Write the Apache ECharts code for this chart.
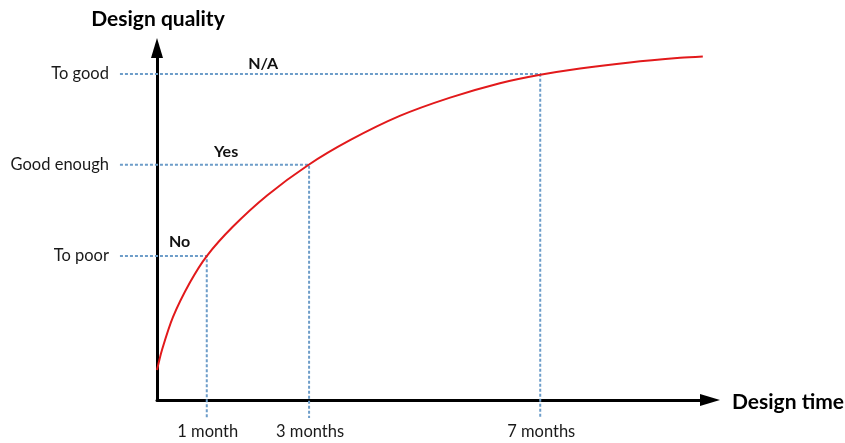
<!DOCTYPE html>
<html>
<head>
<meta charset="utf-8">
<script src="https://cdn.jsdelivr.net/npm/echarts@6/dist/echarts.min.js"></script>
<style>html,body{margin:0;padding:0;background:#fff}#c{width:845px;height:443px}</style>
</head>
<body>
<div id="c"></div>
<script>
// Design time (relative units along the axis, 0-100) and design quality (0-100)
const curveTime    = [0, 0.9, 2.9, 6.0, 9.0, 13.7, 19.9, 27.3, 34.9, 43.9, 53.0, 62.0, 69.3, 76.5, 85.5, 94.6, 98.7];
const curveQuality = [8.5, 14.2, 23.6, 33.5, 40.9, 49.2, 58.1, 66.7, 73.8, 80.7, 85.9, 90.0, 92.4, 94.2, 95.9, 97.2, 97.6];

const levelNames   = ['To poor', 'Good enough', 'To good'];
const levelQuality = [40.9, 66.8, 92.6];
const timeLabels   = ['1 month', '3 months', '7 months'];
const timeValues   = [9.0, 27.5, 69.3];

const answerLabels  = ['No', 'Yes', 'N/A'];
const answerTime    = [4.1, 12.5, 19.2];
const answerQuality = [44.9, 70.4, 95.4];

const guideStartTime = -6.7;
const guideEndQuality = -5.1;
const xName = 'Design time';
const yName = 'Design quality';

const font = 'Lato, "Open Sans", sans-serif';
const guideColor = '#6d9dc9';
const textColor = '#1a1a1a';

function renderGuide(params, api) {
  const i = api.value(0);
  const a = api.coord([guideStartTime, levelQuality[i]]);
  const b = api.coord([timeValues[i], levelQuality[i]]);
  const c = api.coord([timeValues[i], guideEndQuality]);
  const ans = api.coord([answerTime[i], answerQuality[i]]);
  return {
    type: 'group',
    children: [
      { type: 'polyline', shape: { points: [a, b, c] },
        style: { stroke: guideColor, lineWidth: 2, lineDash: [3, 2], fill: null } },
      { type: 'text', x: a[0] - 11, y: a[1],
        style: { text: levelNames[i], fill: textColor, fontFamily: font, fontSize: 16.5, align: 'right', verticalAlign: 'middle' } },
      { type: 'text', x: c[0] + 1, y: c[1] + 5,
        style: { text: timeLabels[i], fill: textColor, fontFamily: font, fontSize: 16.5, align: 'center', verticalAlign: 'top' } },
      { type: 'text', x: ans[0], y: ans[1],
        style: { text: answerLabels[i], fill: '#111', fontFamily: font, fontSize: 16, fontWeight: 'bold', align: 'center', verticalAlign: 'middle' } }
    ]
  };
}

function renderNames(params, api) {
  const top = api.coord([0, 100]);
  const right = api.coord([100, 0]);
  return {
    type: 'group',
    children: [
      { type: 'text', x: top[0] + 1, y: top[1] - 29,
        style: { text: yName, fill: '#000', fontFamily: font, fontSize: 21, fontWeight: 'bold', align: 'center', verticalAlign: 'middle' } },
      { type: 'text', x: right[0] + 22, y: right[1] + 2,
        style: { text: xName, fill: '#000', fontFamily: font, fontSize: 21, fontWeight: 'bold', align: 'left', verticalAlign: 'middle' } }
    ]
  };
}

const chart = echarts.init(document.getElementById('c'), null, { renderer: 'canvas' });
chart.setOption({
  backgroundColor: '#fff',
  animation: false,
  grid: { left: 157, top: 48, width: 553, height: 352 },
  xAxis: {
    type: 'value', min: 0, max: 100,
    axisLine: { show: true, onZero: false, symbol: ['none', 'triangle'], symbolSize: [12, 20], lineStyle: { color: '#000', width: 3 } },
    axisTick: { show: false }, axisLabel: { show: false }, splitLine: { show: false }
  },
  yAxis: {
    type: 'value', min: 0, max: 100,
    axisLine: { show: true, onZero: false, symbol: ['none', 'triangle'], symbolSize: [12, 20], lineStyle: { color: '#000', width: 3 } },
    axisTick: { show: false }, axisLabel: { show: false }, splitLine: { show: false }
  },
  series: [
    {
      type: 'line', smooth: 0.3, showSymbol: false, silent: true, clip: false, z: 5,
      lineStyle: { color: '#e2191b', width: 2 },
      data: curveTime.map((t, i) => [t, curveQuality[i]])
    },
    {
      type: 'custom', silent: true, clip: false, z: 3,
      renderItem: renderGuide,
      data: levelNames.map((n, i) => [i])
    },
    {
      type: 'custom', silent: true, clip: false, z: 4,
      renderItem: renderNames,
      data: [[0]]
    }
  ]
});
</script>
</body>
</html>
